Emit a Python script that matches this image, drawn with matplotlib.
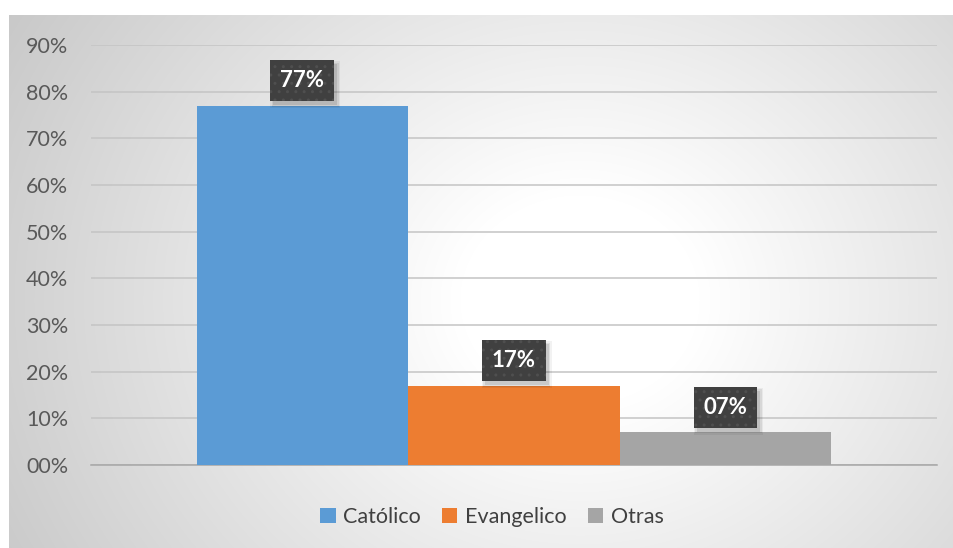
import numpy as np
import matplotlib
matplotlib.use("Agg")
import matplotlib.pyplot as plt
from matplotlib.patches import Patch, Rectangle
from matplotlib.ticker import FuncFormatter

# religion shares
categories = ["Católico", "Evangelico", "Otras"]
shares = [0.77, 0.17, 0.07]
colors = ["#5B9BD5", "#ED7D31", "#A5A5A5"]
yticks = [0.0, 0.1, 0.2, 0.3, 0.4, 0.5, 0.6, 0.7, 0.8, 0.9]

plt.rcParams["font.family"] = ["Lato", "DejaVu Sans"]

W, H = 954, 548
fig = plt.figure(figsize=(W / 100, H / 100), dpi=100)
fig.patch.set_facecolor("white")

# chart area with a soft radial fill
left_px, top_px = 9, 15
bg = fig.add_axes([left_px / W, 0, 1 - left_px / W, 1 - top_px / H])
bg.set_axis_off()
xx, yy = np.meshgrid(np.arange(left_px, W), np.arange(top_px, H))
cx, cy, rx, ry = 580, 300, 480, 420
r = np.sqrt(((xx - cx) / rx) ** 2 + ((yy - cy) / ry) ** 2)
val = 1 - 0.19 * np.clip(r - 0.25, 0, None)
val = np.clip(val, 0.76, 1)
bg.imshow(np.dstack([val, val, val]), aspect="auto", interpolation="bilinear",
          extent=[0, 1, 0, 1])

# plot area
ax = fig.add_axes([91 / W, 1 - 465 / H, (937 - 91) / W, (465 - 45) / H])
ax.patch.set_alpha(0)
width = 0.25
offsets = [-width, 0, width]
labels = []
for off, v, col in zip(offsets, shares, colors):
    ax.bar(off, v, width=width, color=col, zorder=3)
    t = ax.annotate(f"{v * 100:02.0f}%", (off, v), xytext=(0, 10.5),
                    textcoords="offset points", ha="center", va="bottom",
                    fontsize=16, fontweight="bold", color="white", zorder=5,
                    bbox=dict(boxstyle="square,pad=0.45", fc="#404040",
                              ec="#4f4f4f", lw=0, hatch=".."))
    labels.append(t)

ax.set_xlim(-0.5, 0.5)
ax.set_ylim(0, 0.9)
ax.set_yticks(yticks)
ax.yaxis.set_major_formatter(FuncFormatter(lambda v, p: f"{v * 100:02.0f}%"))
ax.set_xticks([])
ax.tick_params(axis="y", length=0, pad=16.5, labelsize=15.5, labelcolor="#595959")
ax.grid(axis="y", color="#c4c4c4", lw=1.1, zorder=0)
for s in ["left", "right", "top"]:
    ax.spines[s].set_visible(False)
ax.spines["bottom"].set_color("#a6a6a6")
ax.spines["bottom"].set_linewidth(1.1)

# soft drop shadows under the label boxes
fig.canvas.draw()
for t in labels:
    bb = t.get_bbox_patch().get_window_extent()
    for grow, a in [(3, 0.05), (1.5, 0.07), (0, 0.1)]:
        ax.add_patch(Rectangle((bb.x0 + 3 - grow, bb.y0 - 4 - grow),
                               bb.width + 2 * grow, bb.height + 2 * grow,
                               transform=None, fc="black", ec="none",
                               alpha=a, zorder=4))

handles = [Patch(facecolor=c, edgecolor="none") for c in colors]
fig.legend(handles, categories, loc="center", ncol=3,
           bbox_to_anchor=(492 / W, 1 - 517 / H), frameon=False,
           fontsize=15.5, labelcolor="#404040", handlelength=0.7,
           handleheight=0.7, handletextpad=0.35, columnspacing=1.0)

fig.savefig("out.png", dpi=100)
